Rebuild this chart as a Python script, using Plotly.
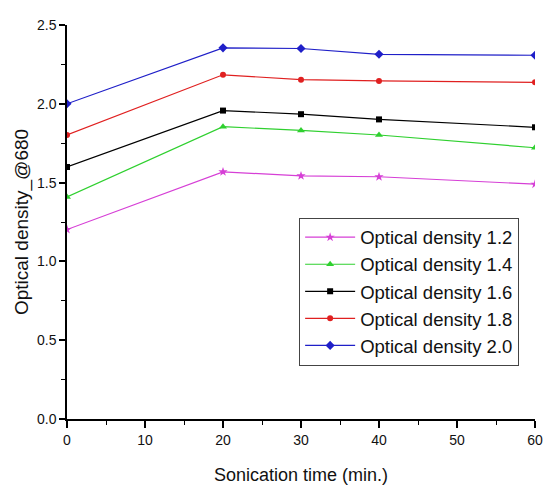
import plotly.graph_objects as go

time_min = [0, 20, 30, 40, 60]
od_12 = [1.202, 1.568, 1.543, 1.537, 1.490]
od_14 = [1.409, 1.855, 1.831, 1.802, 1.721]
od_16 = [1.599, 1.957, 1.934, 1.901, 1.851]
od_18 = [1.802, 2.184, 2.153, 2.145, 2.136]
od_20 = [2.000, 2.355, 2.351, 2.314, 2.308]

series = [
    ("Optical density 1.2", od_12, "#D63FD6", "star", 7),
    ("Optical density 1.4", od_14, "#2FD02F", "triangle-up", 7),
    ("Optical density 1.6", od_16, "#000000", "square", 6),
    ("Optical density 1.8", od_18, "#E02020", "circle", 6),
    ("Optical density 2.0", od_20, "#1F1FC8", "diamond", 7),
]

fig = go.Figure()
for name, vals, color, sym, size in series:
    fig.add_trace(go.Scatter(
        x=time_min, y=vals, name=name, mode="lines+markers",
        line=dict(color=color, width=1.2),
        marker=dict(symbol=sym, size=size, color=color),
    ))

font = "Liberation Sans, Arial, sans-serif"
fig.update_layout(
    width=553, height=486,
    margin=dict(l=59, r=26, t=9, b=75),
    paper_bgcolor="white", plot_bgcolor="white",
    font=dict(family=font, color="#111111"),
    showlegend=True,
    legend=dict(
        x=0.496, y=0.511, xanchor="left", yanchor="top",
        bordercolor="#444444", borderwidth=1, bgcolor="white",
        font=dict(size=18.5, family=font, color="#111111"),
        itemwidth=50, tracegroupgap=0,
    ),
    xaxis=dict(
        range=[0, 60], tickvals=[0, 10, 20, 30, 40, 50, 60],
        showline=True, linecolor="black", linewidth=1.5,
        ticks="outside", ticklen=7, tickcolor="black", tickwidth=1.5,
        minor=dict(tickvals=[5, 15, 25, 35, 45, 55], ticks="outside", ticklen=4, tickcolor="black", tickwidth=1.2),
        showgrid=False, zeroline=False, mirror=False,
        tickfont=dict(size=14),
        title=dict(text="Sonication time (min.)", font=dict(size=18), standoff=22),
    ),
    yaxis=dict(
        range=[0, 2.5], tickvals=[0, 0.5, 1.0, 1.5, 2.0, 2.5], tickformat=".1f",
        showline=True, linecolor="black", linewidth=1.5,
        ticks="outside", ticklen=6, tickcolor="black", tickwidth=1.5,
        minor=dict(tickvals=[0.25, 0.75, 1.25, 1.75, 2.25], ticks="outside", ticklen=4, tickcolor="black", tickwidth=1.2),
        showgrid=False, zeroline=False, mirror=False,
        tickfont=dict(size=14),
        title=dict(text="Optical density_@680", font=dict(size=19), standoff=3),
    ),
)

fig.write_html("out.html")
